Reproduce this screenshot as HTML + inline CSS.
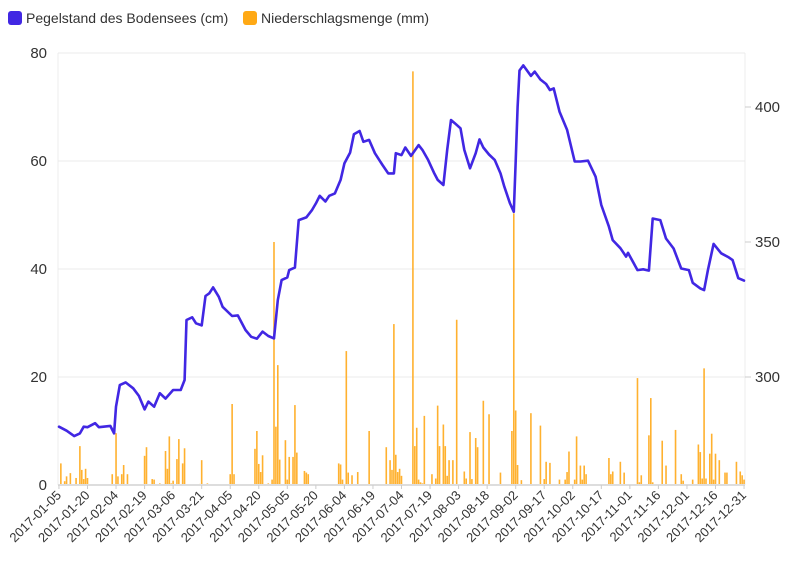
<!DOCTYPE html>
<html><head><meta charset="utf-8"><style>
body{margin:0;background:#fff;font-family:"Liberation Sans",sans-serif}
svg text{font-family:"Liberation Sans",sans-serif;fill:#333}
</style></head><body>
<svg id="chart" width="794" height="575" viewBox="0 0 794 575" xmlns="http://www.w3.org/2000/svg">
<g>
<g><rect x="8" y="11" width="14" height="14" rx="3" fill="#4127e3"/><text x="26" y="23" font-size="14">Pegelstand des Bodensees (cm)</text></g>
<g><rect x="243" y="11" width="14" height="14" rx="3" fill="#ffa915"/><text x="261" y="23" font-size="14">Niederschlagsmenge (mm)</text></g>
</g>
<g id="grid"></g>
<g id="bars"></g>
<g id="line"></g>
<g id="axes"></g>
</svg>
<script>
const startDate = "2017-01-05";
const numDays = 361;
const barDays = [1,3,4,6,9,11,12,13,14,15,28,30,31,32,33,34,36,45,46,49,50,53,56,57,58,59,60,62,63,65,66,74,75,78,90,91,92,103,104,105,106,107,110,112,113,114,115,116,119,120,121,123,124,125,129,130,131,147,148,149,151,152,154,157,163,172,174,175,176,177,178,179,180,186,187,188,189,190,191,192,196,198,199,200,202,203,204,205,207,209,213,214,216,217,219,220,223,226,232,238,239,240,241,243,248,253,255,256,258,263,266,267,268,271,272,274,275,276,277,289,290,291,295,297,304,305,306,310,311,312,317,319,324,327,328,333,336,337,338,339,340,342,343,344,345,347,350,351,356,358,359,360];
const barValues = [4,0.7,1.6,2.2,1.3,7.2,2.8,1.1,3,1.3,2,9.6,1.6,0.2,2,3.7,2,5.4,7,1.1,1,0.3,6.3,3,9,0.3,0.8,4.8,8.5,4,6.8,0.2,4.6,0.3,2,15,2,6.7,10,3.9,2.4,5.5,0.3,1,45,10.8,22.2,4.7,8.3,1,5.2,5.2,14.8,6,2.6,2.3,2,4,3.8,1,24.8,2.3,1.8,2.4,10,7,4.6,2.8,29.8,5.6,2.4,3,1.7,76.6,7.2,10.6,1,0.5,0.3,12.8,2,1.2,14.7,7.2,11.2,7.2,1.7,4.6,4.6,30.6,2.5,1.2,9.8,1.1,8.7,7,15.6,13.1,2.3,10,50.3,13.8,3.7,0.9,13.3,11,1.1,4.3,4.1,1,1,2.4,6.2,1,9,3.6,1,3.6,2,5,2,2.5,4.3,2.3,19.8,0.5,1.8,9.2,16.1,0.5,8.2,3.6,10.2,2,0.8,1,7.5,6.1,1.2,21.6,1.2,5.8,9.5,1,5.8,4.6,2.3,2.3,4.3,2.5,1.8,1];
const lineDays = [0,4,8,11,13,15,19,21,27,29,30,32,35,39,42,45,47,50,53,56,60,64,66,67,70,72,75,77,79,81,84,86,91,94,98,101,104,107,110,113,115,117,120,121,124,126,130,133,135,137,140,142,145,148,150,153,155,158,160,163,166,170,173,176,177,180,182,185,189,191,194,197,199,202,204,206,208,211,213,216,219,221,223,226,229,232,234,237,239,240,241,242,244,248,250,253,256,258,260,263,267,271,274,278,282,285,289,291,295,298,299,304,307,310,312,316,319,323,327,331,333,337,339,341,344,348,352,354,357,360];
const lineValues = [281.6,280.1,278.1,279.1,281.6,281.4,282.9,281.4,281.9,279.1,289,297,298,295.8,293,288,290.9,289,294,292,295.2,295.2,298.9,321.1,322.1,319.9,319.1,330,331,333.2,329.7,326,322.6,322.8,317.4,314.9,314.2,316.8,315.2,314.3,328.5,335.9,336.9,339.6,340.5,358.1,359.1,361.9,364.3,367.1,365,367.1,368,373,379.1,383.1,389.9,391.1,387.1,387.8,382.9,378.5,375.4,375.4,382.9,382.2,385,381.9,385.9,384.1,380.4,375.7,373,371.1,384.1,395.2,394,392.1,384.1,377.3,382.9,388,385,382.4,380.4,375.4,370.5,364.3,361.2,380,400,413.5,415.4,411.5,413.1,410.2,408.5,406.3,406.9,398.3,391.5,379.8,379.8,380.1,374.2,363.7,355.7,350.7,347.7,344.6,346,339.6,339.9,339.4,358.7,358.1,351.3,347.6,340.2,339.6,334.9,332.8,332.2,339.6,349.3,345.8,344.3,343.3,336.6,335.7];
const leftTicks = [0,20,40,60,80];
const rightTicks = [300,350,400];

const NS="http://www.w3.org/2000/svg";
const X0=58,X1=745,Y0=485,Y1=53;
const dayW=(X1-X0)/numDays;
const xDay=d=>X0+(d+0.5)*dayW;
const yL=v=>Y0-(v/80)*(Y0-Y1);
const yR=v=>377-(v-300)*2.7;
function mk(tag,attrs,parent){const e=document.createElementNS(NS,tag);for(const k in attrs)e.setAttribute(k,attrs[k]);parent.appendChild(e);return e;}
const grid=document.getElementById('grid'),bars=document.getElementById('bars'),line=document.getElementById('line'),axes=document.getElementById('axes');
mk('line',{x1:X0,y1:Y1,x2:X0,y2:Y0,stroke:'#ececec'},grid);
mk('line',{x1:X1,y1:Y1,x2:X1,y2:Y0,stroke:'#ececec'},grid);
leftTicks.forEach(v=>{
  const g=mk('line',{x1:X0,y1:yL(v),x2:X1,y2:yL(v),stroke:'#ebebeb','stroke-width':1},grid);
  
  
  const t=mk('text',{x:47,y:yL(v)+5,'text-anchor':'end','font-size':15},axes);
  t.textContent=v;
  
  
});
rightTicks.forEach(v=>{
  mk('line',{x1:X1,y1:yR(v),x2:X1+6,y2:yR(v),stroke:'#ccc'},axes);
  const t=mk('text',{x:755,y:yR(v)+5,'font-size':15},axes);
  t.textContent=v;
  
  
});
mk('line',{x1:X0,y1:Y0,x2:X1,y2:Y0,stroke:'#ddd','stroke-width':2},axes);
barDays.forEach((d,i)=>{
  const y=yL(barValues[i]);
  const r=mk('rect',{x:xDay(d)-0.8,y:y,width:1.6,height:Y0-y,fill:'#ffb12f'},bars);
  
  
});
const pts=lineDays.map((d,i)=>xDay(d).toFixed(1)+','+yR(lineValues[i]).toFixed(1)).join(' ');
const pl=mk('polyline',{points:pts,fill:'none',stroke:'#4127e3','stroke-width':2.6,'stroke-linejoin':'round','stroke-linecap':'round'},line);


const base=new Date(startDate+"T00:00:00Z");
for(let d=0;d<numDays;d+=15){
  const dt=new Date(base.getTime()+d*86400000);
  const lbl=dt.toISOString().slice(0,10);
  const x=xDay(d);
  mk('line',{x1:x,y1:Y0,x2:x,y2:Y0+4,stroke:'#ccc'},axes);
  const t=mk('text',{x:x+3,y:Y0+11,'text-anchor':'end','font-size':13,transform:`rotate(-45 ${x+3} ${Y0+11})`},axes);
  t.textContent=lbl;
  
  
}
</script>
</body></html>
